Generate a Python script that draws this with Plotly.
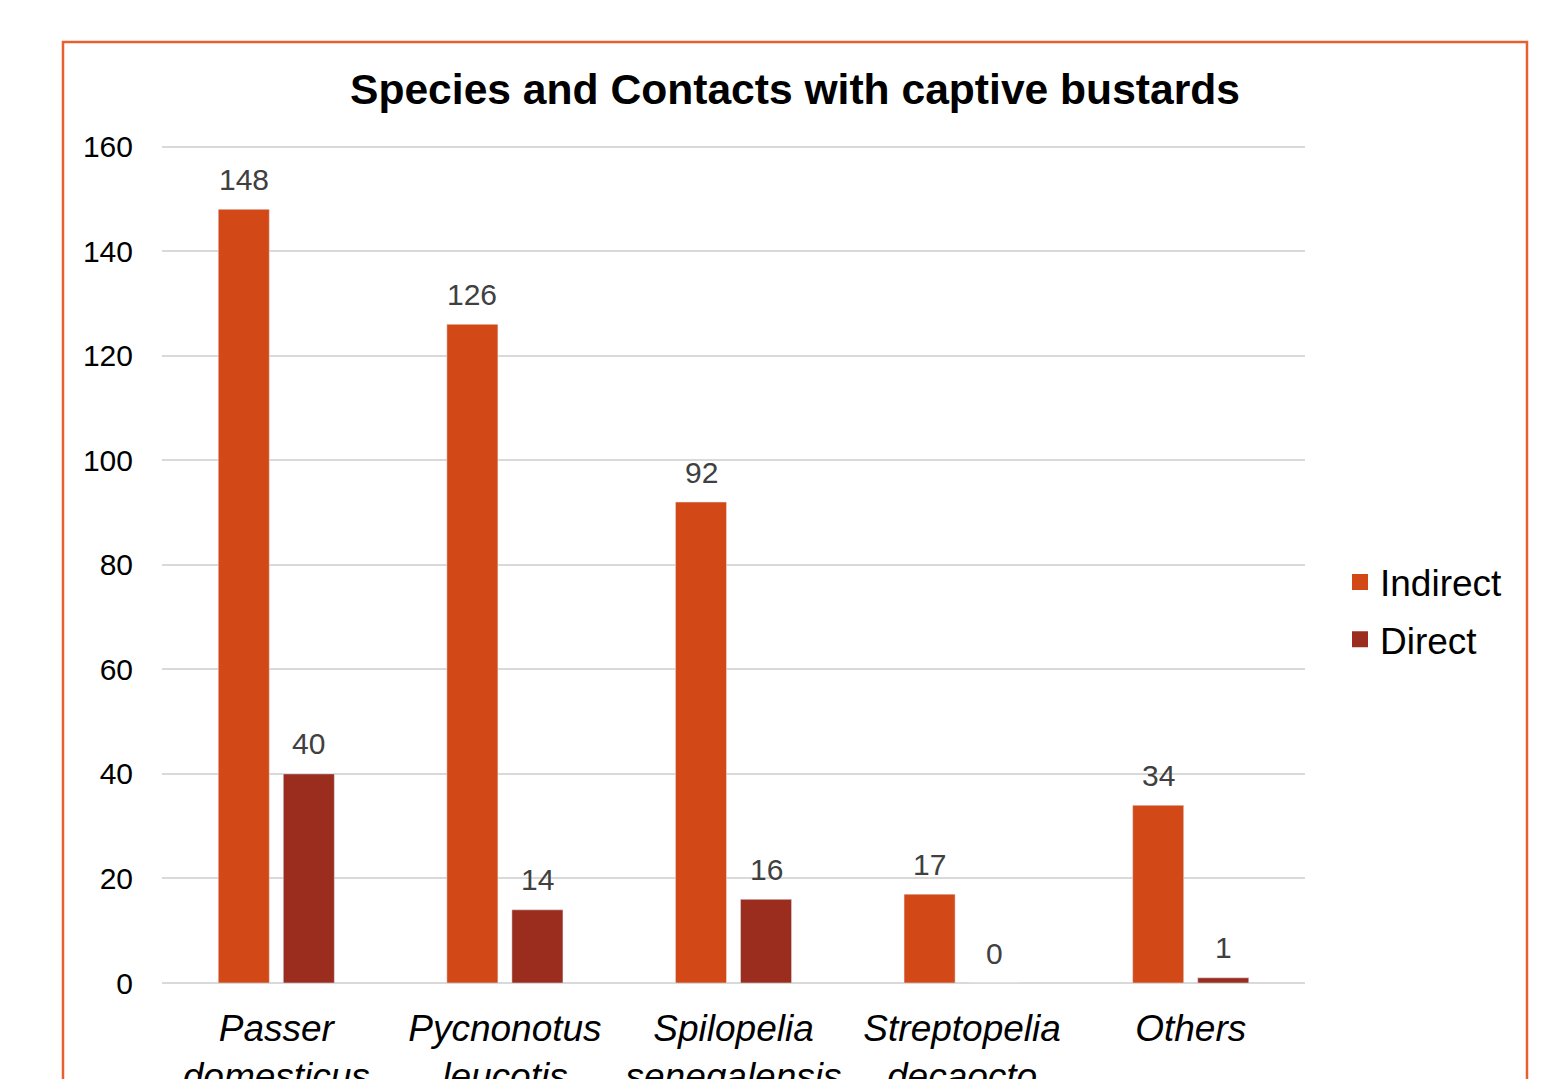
import plotly.graph_objects as go

categories = ["<i>Passer<br>domesticus</i>", "<i>Pycnonotus<br>leucotis</i>", "<i>Spilopelia<br>senegalensis</i>",
              "<i>Streptopelia<br>decaocto</i>", "<i>Others</i>"]
indirect = [148, 126, 92, 17, 34]
direct = [40, 14, 16, 0, 1]
y_ticks = [0, 20, 40, 60, 80, 100, 120, 140, 160]

FONT = "Liberation Sans, Arial, sans-serif"
W, H = 1542, 1079
L, R, T, B = 162, 237, 145, 96
pw, ph = W - L - R, H - T - B
C_IND, C_DIR = "#D34817", "#9B2D1F"

fig = go.Figure()
fig.add_trace(go.Bar(name="Indirect", x=categories, y=indirect, marker_color=C_IND, showlegend=False))
fig.add_trace(go.Bar(name="Direct", x=categories, y=direct, marker_color=C_DIR, showlegend=False))
# legend entries with square markers
fig.add_trace(go.Scatter(name="Indirect", x=[None], y=[None], mode="markers", legendgroup="a",
                         marker=dict(symbol="square", size=16, color=C_IND)))
fig.add_trace(go.Scatter(name="Direct", x=[None], y=[None], mode="markers", legendgroup="b",
                         marker=dict(symbol="square", size=16, color=C_DIR)))

# data labels
for vals, shift in ((indirect, -32.5), (direct, 32.5)):
    for c, v in zip(categories, vals):
        fig.add_annotation(x=c, y=v, text=str(v), showarrow=False, xshift=shift, yshift=30,
                           yanchor="middle", font=dict(size=30, color="#404040", family=FONT))

def px_x(x):
    return (x - L) / pw

def px_y(y):
    return (H - B - y) / ph

fig.add_shape(type="rect", xref="paper", yref="paper",
              x0=px_x(63), x1=px_x(1527), y0=px_y(1200), y1=px_y(42),
              line=dict(color="#E8602F", width=2.5), fillcolor="rgba(0,0,0,0)", layer="below")

fig.update_layout(
    width=W, height=H,
    margin=dict(l=L, r=R, t=T, b=B, pad=0, autoexpand=False),
    paper_bgcolor="white", plot_bgcolor="white",
    font=dict(family=FONT, color="black"),
    barmode="group", bargap=0.431, bargroupgap=0.215,
    title=dict(text="<b>Species and Contacts with captive bustards</b>", x=795 / W, xanchor="center",
               y=1 - 89 / H, yanchor="middle", font=dict(size=42.6, color="black", family=FONT)),
    legend=dict(x=px_x(1340), y=px_y(611), xanchor="left", yanchor="middle",
                font=dict(size=37, color="black", family=FONT), tracegroupgap=6,
                itemwidth=30, bgcolor="rgba(0,0,0,0)", itemsizing="trace"),
    showlegend=True,
)
fig.update_xaxes(showline=False, showgrid=False, ticks="", automargin=False,
                 tickfont=dict(size=37, color="black", family=FONT), ticklabelstandoff=20)
fig.update_yaxes(range=[0, 160.3], tickvals=y_ticks, showgrid=True, gridcolor="#D9D9D9", gridwidth=1.5,
                 zeroline=True, zerolinecolor="#D9D9D9", zerolinewidth=1.5, showline=False, automargin=False,
                 tickfont=dict(size=30, color="black", family=FONT), ticks="", ticklabelstandoff=28)

fig.write_html("out.html")
